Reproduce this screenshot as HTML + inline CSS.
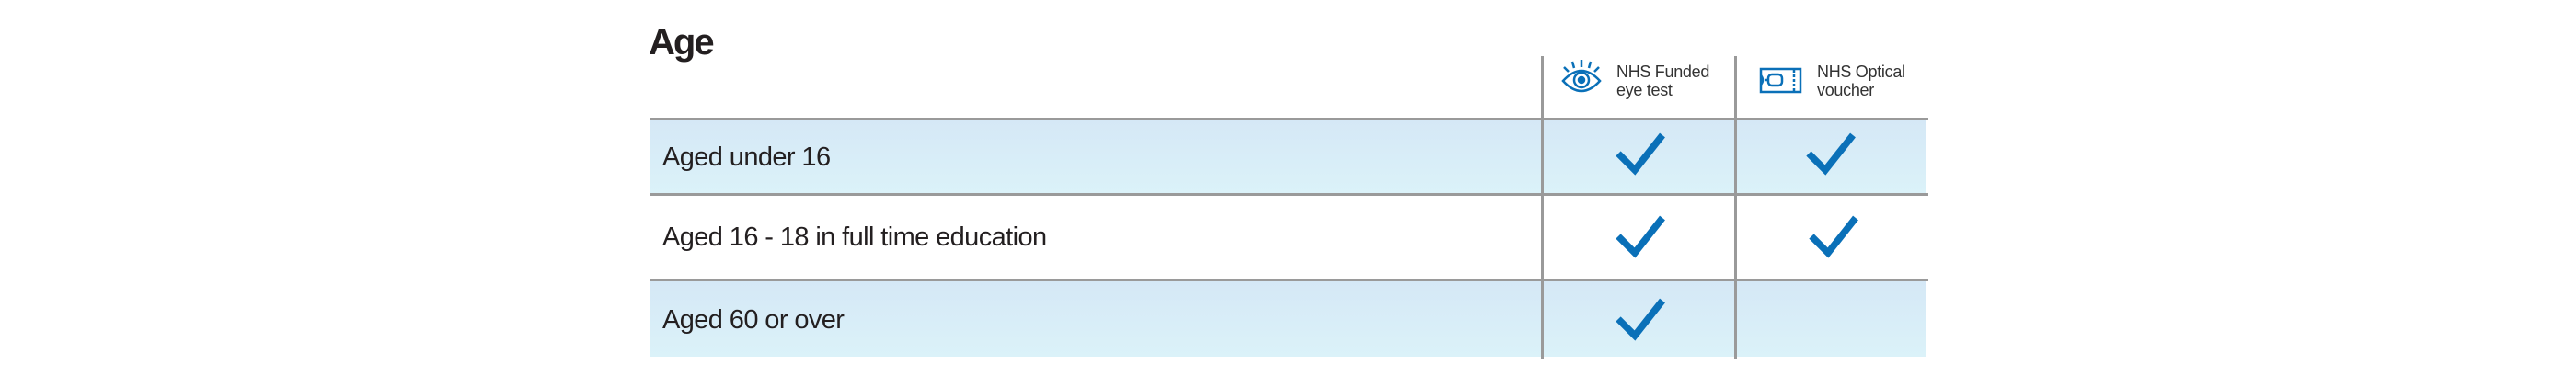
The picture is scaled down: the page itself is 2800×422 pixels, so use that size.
<!DOCTYPE html>
<html><head><meta charset="utf-8"><style>
body{margin:0;width:2800px;height:422px;background:#fff;position:relative;overflow:hidden;font-family:"Liberation Sans",sans-serif;color:#231f20}
.a{position:absolute}
.row{position:absolute;left:706px;width:1387px;background:linear-gradient(#d5e8f6,#dbf2f9)}
.hl{position:absolute;left:706px;width:1390px;height:3px;background:#9a9a9a}
.vl{position:absolute;top:61px;height:330px;width:3px;background:#9a9a9a}
.t{position:absolute;left:720px;font-size:29px;letter-spacing:-0.6px;white-space:nowrap}
.h{position:absolute;font-size:18px;line-height:20px;color:#333;letter-spacing:-0.3px}
</style></head><body>
<div class="a" style="left:705px;top:24px;font-size:40px;font-weight:bold;letter-spacing:-2px">Age</div>
<div class="row" style="top:130px;height:81px"></div>
<div class="row" style="top:305px;height:83px"></div>
<div class="hl" style="top:128px"></div>
<div class="hl" style="top:210px"></div>
<div class="hl" style="top:303px"></div>
<div class="vl" style="left:1675px"></div>
<div class="vl" style="left:1885px"></div>
<div class="t" style="top:155px">Aged under 16</div>
<div class="t" style="top:242px">Aged 16 - 18 in full time education</div>
<div class="t" style="top:332px">Aged 60 or over</div>
<div class="h" style="left:1757px;top:68px">NHS Funded<br>eye test</div>
<div class="h" style="left:1975px;top:68px">NHS Optical<br>voucher</div>
<svg class="a" style="left:0;top:0" width="2800" height="422">
<g fill="none" stroke="#0a70b8" stroke-width="2.5">
<path d="M1699 88 Q1719 66 1739 88 Q1719 110 1699 88Z"/>
<circle cx="1719" cy="87" r="8"/>
<circle cx="1719" cy="87" r="3" fill="#0a70b8"/>
<path d="M1719 65v8M1709 67l2 7M1729 67l-2 7M1700 73l5 5M1738 73l-5 5"/>
<rect x="1914" y="75" width="43" height="25"/>
<path d="M1950 76v24" stroke-dasharray="3 2"/>
<path d="M1914 82q4 5 0 10M1918 87h4"/>
<rect x="1922" y="81" width="15" height="12" rx="4"/>
</g>
<g fill="none" stroke="#0a70b8" stroke-width="7.5">
<path d="M1759 167l18 18l30 -38"/>
<path d="M1966 167l18 18l30 -38"/>
<path d="M1759 257l18 18l30 -38"/>
<path d="M1969 257l18 18l30 -38"/>
<path d="M1759 347l18 18l30 -38"/>
</g>
</svg>
</body></html>
